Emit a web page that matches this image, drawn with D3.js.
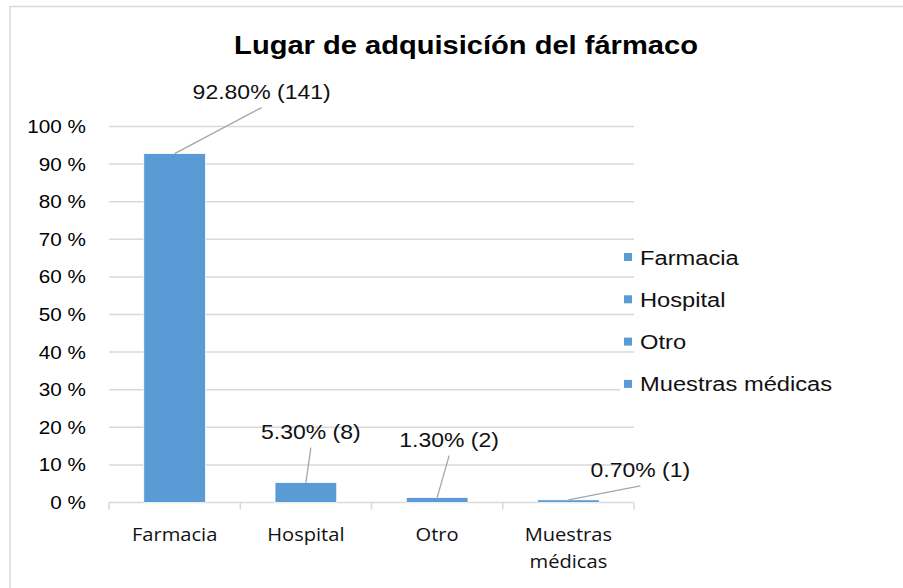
<!DOCTYPE html>
<html>
<head>
<meta charset="utf-8">
<script src="https://cdn.jsdelivr.net/npm/d3@7"></script>
<style>
  body { margin: 0; background: #fff; }
  svg { display: block; }
</style>
</head>
<body>
<div class="chart"></div>
<script>
// datos
var categories = ['Farmacia', 'Hospital', 'Otro', 'Muestras médicas'];
var percents = [0.928, 0.053, 0.013, 0.007];
var counts = [141, 8, 2, 1];
var labelTexts = ['92.80% (141)', '5.30% (8)', '1.30% (2)', '0.70% (1)'];
var yTicks = [0, 0.1, 0.2, 0.3, 0.4, 0.5, 0.6, 0.7, 0.8, 0.9, 1];
var title = 'Lugar de adquisicíón del fármaco';

// desplazamiento de etiquetas respecto al tope de la barra
var labelOffsets = [[87, -55], [5, -44], [12, -51], [72, -23]];

var width = 903,
    height = 588,
    SX = 1.15,            // el original está estirado en horizontal
    blue = '#5b9bd5',
    grid = '#d9d9d9';

var svg = d3.select('.chart').append('svg')
    .attr('width', width)
    .attr('height', height);

// marco
svg.append('rect')
    .attr('x', 10).attr('y', 6.5)
    .attr('width', 1000).attr('height', 1000)
    .attr('fill', '#fff')
    .attr('stroke', grid)
    .attr('stroke-width', 1.5);

function stretchText(parent, x, y, text, opts) {
    var g = parent.append('g').attr('transform', 'translate(' + x + ',' + y + ')');
    return g.append('text')
        .attr('transform', 'scale(' + SX + ',1)')
        .attr('text-anchor', opts.anchor || 'middle')
        .style('font-family', opts.font || '"Liberation Sans", Arial, sans-serif')
        .style('font-size', opts.size + 'px')
        .style('font-weight', opts.weight || 'normal')
        .attr('fill', opts.color || '#000')
        .text(text);
}

var x = d3.scaleBand()
    .domain(categories)
    .range([109, 634])
    .paddingInner(0.53)
    .paddingOuter(0.265);

var y = d3.scaleLinear()
    .domain([0, 1])
    .range([502.5, 126.5]);

// título
stretchText(svg, 466, 54, title, { size: 25.3, weight: 'bold' });

// rejilla
svg.append('g')
    .selectAll('line')
    .data(yTicks.slice(1))
    .enter().append('line')
    .attr('x1', 109).attr('x2', 634)
    .attr('y1', function(d) { return y(d); })
    .attr('y2', function(d) { return y(d); })
    .attr('stroke', grid)
    .attr('stroke-width', 1.5);

// eje y
var yLabels = svg.append('g');
yTicks.forEach(function(t) {
    stretchText(yLabels, 86, y(t) + 6.5, Math.round(t * 100) + ' %', { size: 18, anchor: 'end' });
});

// eje x
var xAxis = svg.append('g')
    .attr('transform', 'translate(0,' + y(0) + ')')
    .call(d3.axisBottom(x).tickSize(0).tickFormat(''));
xAxis.select('.domain').attr('stroke', grid).attr('stroke-width', 1.5)
    .attr('d', 'M109,0H634');
xAxis.selectAll('.tick').remove();

d3.range(categories.length + 1).forEach(function(i) {
    xAxis.append('line')
        .attr('x1', 109 + i * (634 - 109) / categories.length)
        .attr('x2', 109 + i * (634 - 109) / categories.length)
        .attr('y1', 0).attr('y2', 7)
        .attr('stroke', grid)
        .attr('stroke-width', 1.5);
});

var catFont = '"Open Sans", "Noto Sans", sans-serif';
categories.forEach(function(c) {
    var cx = x(c) + x.bandwidth() / 2;
    var words = c.split(' ');
    words.forEach(function(w, i) {
        stretchText(svg, cx, 541 + i * 27, w, { size: 17.5, font: catFont, color: '#111' });
    });
});

// barras
svg.append('g')
    .selectAll('rect')
    .data(percents)
    .enter().append('rect')
    .attr('x', function(d, i) { return x(categories[i]); })
    .attr('width', x.bandwidth())
    .attr('y', function(d) { return y(d); })
    .attr('height', function(d) { return y(0) - y(d); })
    .attr('fill', blue)
    .attr('stroke', '#fff')
    .attr('stroke-width', 0.75);

// etiquetas de datos con líneas guía
var labels = svg.append('g');
percents.forEach(function(p, i) {
    var bx = x(categories[i]) + x.bandwidth() / 2,
        by = y(p),
        lx = bx + labelOffsets[i][0],
        ly = by + labelOffsets[i][1];
    labels.append('line')
        .attr('x1', bx).attr('y1', by)
        .attr('x2', lx).attr('y2', ly + 9)
        .attr('stroke', '#a6a6a6')
        .attr('stroke-width', 1.3);
    stretchText(labels, lx, ly, labelTexts[i], { size: 20, color: '#111' });
});

// leyenda
var legend = svg.append('g');
legend.append('rect')
    .attr('x', 620).attr('y', 365)
    .attr('width', 260).attr('height', 40)
    .attr('fill', '#fff');
categories.forEach(function(c, i) {
    var cy = 257 + i * 42.3;
    legend.append('rect')
        .attr('x', 624).attr('y', cy - 4)
        .attr('width', 8).attr('height', 8)
        .attr('fill', blue);
    stretchText(legend, 640, cy + 7.5, c, { size: 20.6, anchor: 'start', color: '#111' });
});
</script>
</body>
</html>
